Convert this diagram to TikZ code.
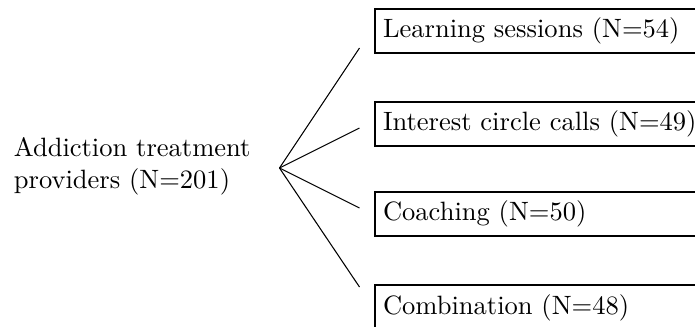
\documentclass[tikz,border=0pt]{standalone}
\usepackage{amsmath}
\usepackage{tikz}

\tikzset{
  groupbox/.style={draw, line width=0.8pt, anchor=west, minimum height=16.6pt,
    text width=130pt, align=left, inner xsep=3pt}
}

\begin{document}
\begin{tikzpicture}[x=0.377pt, y=-0.377pt]
\useasboundingbox (0,0) rectangle (695,327);
\node[anchor=west, align=left] (prov) at (4.5,166) {Addiction treatment\\providers (N=201)};
\coordinate (fan) at (279.5,168);
\node[groupbox] (learn) at (374,31) {Learning sessions (N=54)};
\node[groupbox] (circle) at (374,124) {Interest circle calls (N=49)};
\node[groupbox] (coach) at (374,214) {Coaching (N=50)};
\node[groupbox] (combi) at (374,307.5) {Combination (N=48)};
\coordinate (l1) at (359.5,48);
\coordinate (l2) at (359.5,128);
\coordinate (l3) at (359.5,208);
\coordinate (l4) at (359.5,287);
\draw[line width=0.4pt] (fan) -- (l1);
\draw[line width=0.4pt] (fan) -- (l2);
\draw[line width=0.4pt] (fan) -- (l3);
\draw[line width=0.4pt] (fan) -- (l4);
\end{tikzpicture}
\end{document}
